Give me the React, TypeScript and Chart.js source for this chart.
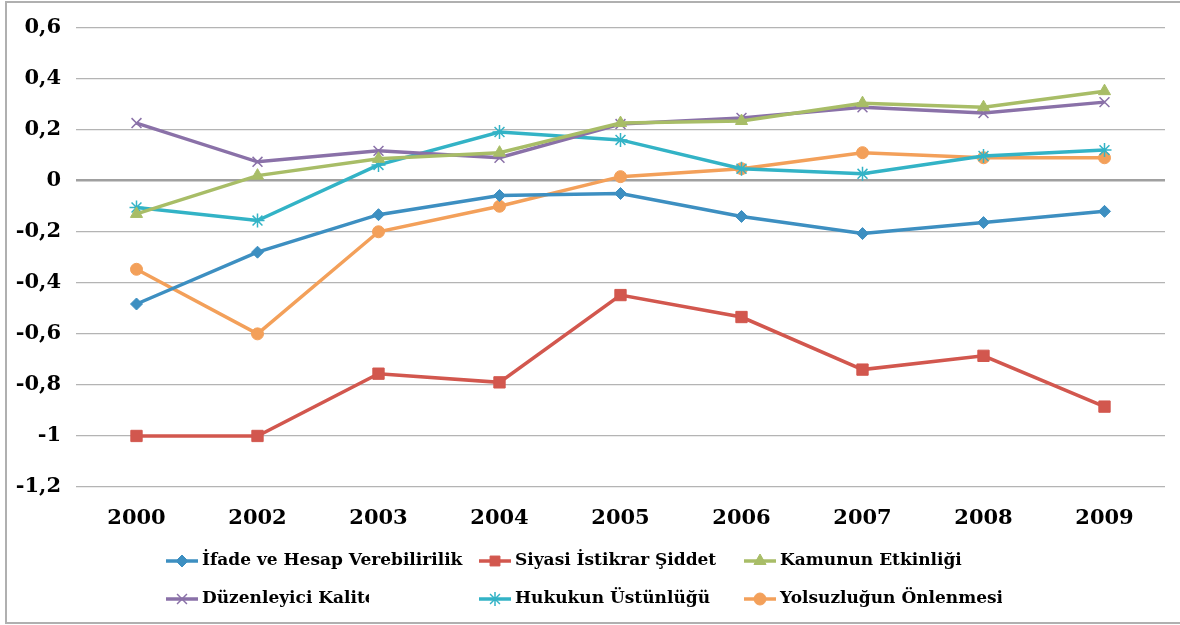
import React, { useEffect, useRef } from "react";
import { Chart, registerables } from "chart.js";
import { drawPoint } from "chart.js/helpers";

Chart.register(...registerables);

const years = ["2000", "2002", "2003", "2004", "2005", "2006", "2007", "2008", "2009"];

const ifade = [-0.483, -0.28, -0.133, -0.058, -0.05, -0.14, -0.207, -0.164, -0.12];
const siyasi = [-1.0, -1.0, -0.756, -0.79, -0.448, -0.534, -0.74, -0.686, -0.885];
const kamunun = [-0.13, 0.02, 0.086, 0.11, 0.226, 0.234, 0.304, 0.288, 0.351];
const duzenleyici = [0.226, 0.074, 0.117, 0.09, 0.222, 0.246, 0.288, 0.265, 0.308];
const hukukun = [-0.105, -0.156, 0.062, 0.191, 0.16, 0.047, 0.027, 0.097, 0.12];
const yolsuzluk = [-0.347, -0.6, -0.2, -0.1, 0.016, 0.047, 0.11, 0.09, 0.09];

const seriesNames = [
  "İfade ve Hesap Verebilirilik",
  "Siyasi İstikrar Şiddet",
  "Kamunun Etkinliği",
  "Düzenleyici Kalite",
  "Hukukun Üstünlüğü",
  "Yolsuzluğun Önlenmesi",
];

const FONT = "'DejaVu Serif', serif";

const styles = [
  { color: "#3d8fc1", point: "rectRot", r: 6, bw: 1 },
  { color: "#d2574e", point: "rect", r: 8, bw: 1 },
  { color: "#a8bd67", point: "triangle", r: 7, bw: 1 },
  { color: "#8a71a8", point: "crossRot", r: 7, bw: 1.5 },
  { color: "#33b3c6", point: "star", r: 7, bw: 1.5 },
  { color: "#f3a05a", point: "circle", r: 6, bw: 1 },
];

const legendPos = [
  { x: 166, y: 561, clip: 0 },
  { x: 479, y: 561, clip: 0 },
  { x: 744, y: 561, clip: 0 },
  { x: 166, y: 599, clip: 369 },
  { x: 479, y: 599, clip: 0 },
  { x: 744, y: 599, clip: 1002 },
];

const framePlugin = {
  id: "frame",
  afterDraw(chart: any) {
    const ctx = chart.ctx;
    ctx.save();
    ctx.strokeStyle = "#b0b0b0";
    ctx.lineWidth = 2;
    ctx.beginPath();
    ctx.moveTo(1180, 2);
    ctx.lineTo(6, 2);
    ctx.lineTo(6, 623);
    ctx.lineTo(1180, 623);
    ctx.stroke();

    chart.data.datasets.forEach((ds: any, i: number) => {
      const p = legendPos[i];
      const st = styles[i];
      ctx.save();
      ctx.strokeStyle = st.color;
      ctx.lineWidth = 3.5;
      ctx.beginPath();
      ctx.moveTo(p.x, p.y);
      ctx.lineTo(p.x + 32, p.y);
      ctx.stroke();
      ctx.fillStyle = st.color;
      ctx.lineWidth = st.bw;
      drawPoint(ctx, {
        pointStyle: st.point,
        radius: Math.min(st.r, 7),
        rotation: 0,
        borderWidth: st.bw,
      } as any, p.x + 16, p.y);
      if (p.clip) {
        ctx.beginPath();
        ctx.rect(p.x, p.y - 20, p.clip - p.x, 40);
        ctx.clip();
      }
      ctx.fillStyle = "#000";
      ctx.font = "bold 17px " + FONT;
      ctx.textAlign = "left";
      ctx.textBaseline = "middle";
      ctx.fillText(ds.label, p.x + 36, p.y);
      ctx.restore();
    });
    ctx.restore();
  },
};

export default function App() {
  const ref = useRef<HTMLCanvasElement>(null);

  useEffect(() => {
    if (!ref.current) return;
    const allData = [ifade, siyasi, kamunun, duzenleyici, hukukun, yolsuzluk];
    const chart = new Chart(ref.current, {
      type: "line",
      data: {
        labels: years,
        datasets: allData.map((d, i) => ({
          label: seriesNames[i],
          data: d,
          borderColor: styles[i].color,
          backgroundColor: styles[i].color,
          borderWidth: 3.5,
          pointStyle: styles[i].point as any,
          pointRadius: styles[i].r,
          pointBorderWidth: styles[i].bw,
          pointBorderColor: styles[i].color,
          pointBackgroundColor: styles[i].color,
          tension: 0,
        })),
      },
      options: {
        responsive: false,
        animation: false,
        layout: { padding: { left: 0, top: 25, right: 15, bottom: 0 } },
        plugins: {
          legend: { display: false },
          tooltip: { enabled: false },
        },
        scales: {
          x: {
            offset: true,
            grid: { display: false, drawTicks: false },
            border: { display: false },
            ticks: {
              color: "#000",
              font: { family: FONT, size: 21, weight: "bold" },
              padding: 19,
              maxRotation: 0,
            },
            afterFit: (s: any) => {
              s.height = 138;
            },
          },
          y: {
            min: -1.2,
            max: 0.6,
            grid: {
              drawTicks: false,
              color: (c: any) => (c.tick && c.tick.value === 0 ? "#a0a0a0" : "#b4b4b4"),
              lineWidth: (c: any) => (c.tick && c.tick.value === 0 ? 2.5 : 1.2),
            },
            border: { display: false },
            ticks: {
              stepSize: 0.2,
              color: "#000",
              font: { family: FONT, size: 21, weight: "bold" },
              padding: 15,
              callback: (v: any) => {
                const n = Math.round(Number(v) * 10) / 10;
                return String(n).replace(".", ",");
              },
            },
            afterFit: (s: any) => {
              s.width = 76;
            },
          },
        },
      },
      plugins: [framePlugin],
    });
    return () => chart.destroy();
  }, []);

  return (
    <div style={{ position: "fixed", left: 0, top: 0, width: 1180, height: 625, background: "#fff" }}>
      <canvas ref={ref} width={1180} height={625} style={{ width: 1180, height: 625, display: "block" }} />
    </div>
  );
}
